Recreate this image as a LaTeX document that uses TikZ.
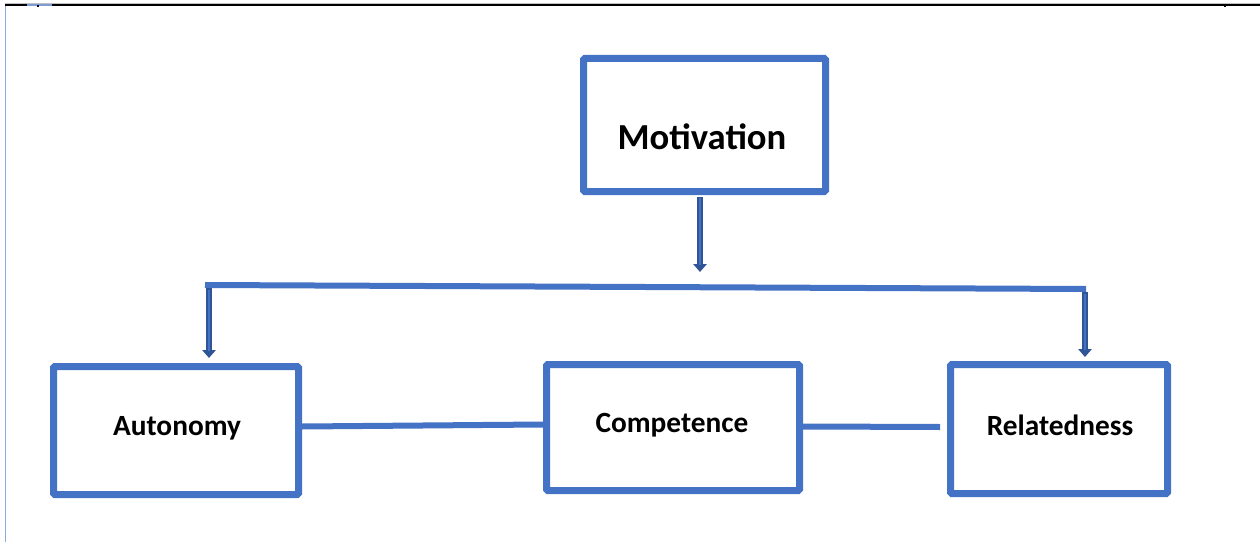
\documentclass[tikz,border=0pt]{standalone}
\usepackage{fontspec}
\setmainfont{Carlito}
\usetikzlibrary{arrows.meta,calc}
\definecolor{boxblue}{HTML}{4472C4}
\definecolor{arrdark}{HTML}{2F5597}
\definecolor{framelft}{HTML}{8EA9DB}
\tikzset{
  box/.style={draw=boxblue,line width=5.25pt,fill=white,inner sep=0pt,rounded corners=1pt},
  lbl/.style={font=\bfseries,text=black,inner sep=0pt},
  conn/.style={draw=boxblue,line width=4.5pt},
  arrout/.style={draw=arrdark,line width=4.8pt,-{Triangle[length=6pt,width=10pt]}},
  arrin/.style={draw=boxblue,line width=2pt,shorten >=5pt}
}
\begin{document}
\begin{tikzpicture}[x=0.75pt,y=-0.75pt]
\useasboundingbox (0,0) rectangle (1260,542);
% frame lines
\draw[black!25,line width=0.75pt] (5,3.5) -- (1260,3.5);
\draw[black,line width=1.2pt] (5,5) -- (1260,5);
\draw[framelft,line width=0.9pt] (5.5,6) -- (5.5,542);
\draw[boxblue!70,line width=1.2pt] (27,5) -- (52,5);
\draw[black,line width=0.9pt] (38,5) -- (38,7);
\draw[black,line width=0.9pt] (1225,5) -- (1225,7);
% boxes
\node[box,minimum width=181.5pt,minimum height=99.75pt] (mot) at (704.5,125) {};
\node[lbl,font=\bfseries\fontsize{27.5}{32}\selectfont] (motl) at (702,137) {Motivation};
\node[box,minimum width=183.75pt,minimum height=96pt] (aut) at (176,430.5) {};
\node[lbl,font=\bfseries\fontsize{22}{26}\selectfont] (autl) at (177,428) {Autonomy};
\node[box,minimum width=189.75pt,minimum height=94.5pt] (com) at (673,427.5) {};
\node[lbl,font=\bfseries\fontsize{22}{26}\selectfont] (coml) at (672,425) {Competence};
\node[box,minimum width=162.75pt,minimum height=96.75pt] (rel) at (1059,429) {};
\node[lbl,font=\bfseries\fontsize{22}{26}\selectfont] (rell) at (1060,425) {Relatedness};
% bar
\coordinate (bl) at (205,285);
\coordinate (br) at (1086,289);
\draw[conn] (bl) -- (br);
% arrows
\coordinate (mtip) at (700,272);
\coordinate (ltop) at (209,288);
\coordinate (ltip) at (209,358);
\coordinate (rtop) at (1085,292);
\coordinate (rtip) at (1085,357);
\draw[arrout] (700,197) -- (mtip);
\draw[arrin] (700,198) -- (mtip);
\draw[arrout] (ltop) -- (ltip);
\draw[arrin] (209,290) -- (ltip);
\draw[arrout] (rtop) -- (rtip);
\draw[arrin] (1085,294) -- (rtip);
% horizontal connectors
\draw[conn] ($(aut.east)+(0,-4)$) -- ($(com.west)+(0,-3)$);
\draw[conn] ($(com.east)+(0,-1)$) -- ($(rel.west)+(-7,-2)$);
\end{tikzpicture}
\end{document}
